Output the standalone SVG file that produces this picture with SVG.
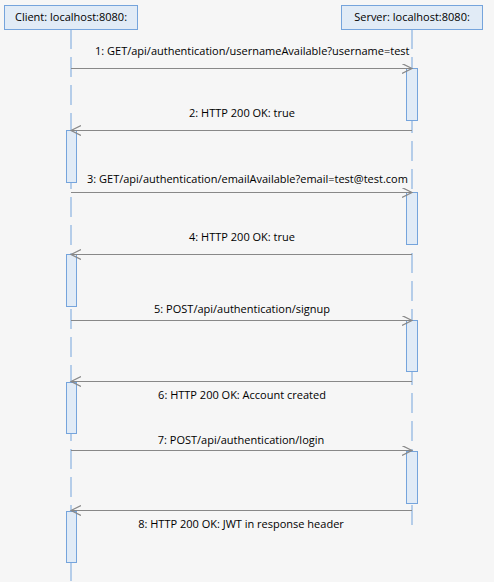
<svg xmlns="http://www.w3.org/2000/svg" width="494" height="582" viewBox="0 0 494 582">
<style>
.bg{fill:#f6f6f6}
.head{fill:#e1ebf6;stroke:#75a4dc;stroke-width:1}
.act{fill:#e1ebf6;stroke:#75a4dc;stroke-width:1}
.life{stroke:#75a4dc;stroke-width:1;stroke-dasharray:20 8;fill:none}
.msg{stroke:#888888;stroke-width:1.2;fill:none}
text{font-family:"Open Sans","Noto Sans","Liberation Sans",sans-serif;font-size:11px;fill:#000000}
.c{text-anchor:middle}
</style>
<defs>
<marker id="arr" markerWidth="12" markerHeight="12" refX="10" refY="5" orient="auto" markerUnits="userSpaceOnUse">
<path d="M0,0 L10,5 L0,10" fill="none" stroke="#888888" stroke-width="1.2"/>
</marker>
</defs>
<rect class="bg" x="0" y="0" width="494" height="582"/>
<g id="lifelines">
<line class="life" x1="71" y1="29" x2="71" y2="582"/>
<line class="life" x1="412" y1="29" x2="412" y2="525"/>
</g>
<g id="client">
<rect class="head" x="4.5" y="5.5" width="133" height="24"/>
<text class="c" x="71" y="21">Client: localhost:8080:</text>
</g>
<g id="server">
<rect class="head" x="341.5" y="5.5" width="141" height="24"/>
<text class="c" x="412" y="21">Server: localhost:8080:</text>
</g>
<g id="activations">
<rect class="act" x="406.5" y="68.5" width="11" height="52"/>
<rect class="act" x="66.5" y="130.5" width="10" height="52"/>
<rect class="act" x="406.5" y="192.5" width="11" height="52"/>
<rect class="act" x="66.5" y="254.5" width="10" height="52"/>
<rect class="act" x="406.5" y="320.5" width="11" height="51"/>
<rect class="act" x="66.5" y="382.5" width="10" height="51"/>
<rect class="act" x="406.5" y="451.5" width="11" height="52"/>
<rect class="act" x="66.5" y="511.5" width="10" height="51"/>
</g>
<g id="connectors">
<line class="msg" x1="71" y1="68.5" x2="412" y2="68.5" marker-end="url(#arr)"/>
<line class="msg" x1="412" y1="130.5" x2="71" y2="130.5" marker-end="url(#arr)"/>
<line class="msg" x1="71" y1="192.5" x2="412" y2="192.5" marker-end="url(#arr)"/>
<line class="msg" x1="412" y1="254.5" x2="71" y2="254.5" marker-end="url(#arr)"/>
<line class="msg" x1="71" y1="320.5" x2="412" y2="320.5" marker-end="url(#arr)"/>
<line class="msg" x1="412" y1="381.5" x2="71" y2="381.5" marker-end="url(#arr)"/>
<line class="msg" x1="71" y1="450.5" x2="412" y2="450.5" marker-end="url(#arr)"/>
<line class="msg" x1="412" y1="510.5" x2="71" y2="510.5" marker-end="url(#arr)"/>
</g>
<g id="labels">
<text x="95" y="55">1: GET/api/authentication/usernameAvailable?username=test</text>
<text class="c" x="242" y="117">2: HTTP 200 OK: true</text>
<text x="87" y="183">3: GET/api/authentication/emailAvailable?email=test@test.com</text>
<text class="c" x="242" y="241">4: HTTP 200 OK: true</text>
<text class="c" x="242" y="313">5: POST/api/authentication/signup</text>
<text class="c" x="242" y="399">6: HTTP 200 OK: Account created</text>
<text class="c" x="241" y="444">7: POST/api/authentication/login</text>
<text class="c" x="241" y="528">8: HTTP 200 OK: JWT in response header</text>
</g>
</svg>
